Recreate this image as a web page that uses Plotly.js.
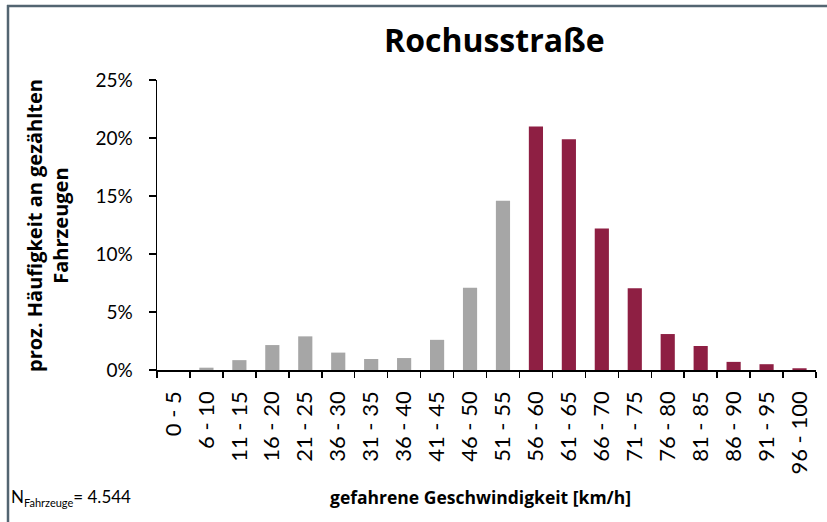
<!DOCTYPE html>
<html>
<head>
<meta charset="utf-8">
<script src="https://cdn.plot.ly/plotly-3.0.1.min.js"></script>
<style>html,body{margin:0;padding:0;background:#fff;}#chart{width:827px;height:522px;}</style>
</head>
<body>
<div id="chart"></div>
<script>
const categories = ["0 - 5","6 - 10","11 - 15","16 - 20","21 - 25","36 - 30","31 - 35","36 - 40","41 - 45","46 - 50","51 - 55","56 - 60","61 - 65","66 - 70","71 - 75","76 - 80","81 - 85","86 - 90","91 - 95","96 - 100"];
const shares = [0, 0.2, 0.85, 2.15, 2.9, 1.5, 0.95, 1.03, 2.6, 7.1, 14.6, 21.0, 19.9, 12.2, 7.05, 3.1, 2.07, 0.7, 0.5, 0.15];
const yTicks = [0, 5, 10, 15, 20, 25];
const title = "Rochusstraße";
const xTitle = "gefahrene Geschwindigkeit [km/h]";
const yTitle = "proz. Häufigkeit an gezählten<br>Fahrzeugen";
const nMain = "N";
const nSub = "Fahrzeuge";
const nValue = "= 4.544";
const firstOverLimit = "56 - 60";

const W = 827, H = 522;
const L = 157, R = 11, T = 80, B = 152;
const pw = W - L - R, ph = H - T - B;
const px = v => (v - L) / pw;
const py = v => (H - B - v) / ph;

const limitIdx = categories.indexOf(firstOverLimit);
const colors = categories.map((c, i) => i < limitIdx ? "#a6a6a6" : "#8e1f43");

const font = "Lato, 'Open Sans', sans-serif";
const font2 = "'Open Sans', Lato, sans-serif";

Plotly.newPlot("chart", [{
  type: "bar",
  x: categories,
  y: shares,
  marker: {color: colors, line: {width: 0}},
  hoverinfo: "skip"
}], {
  width: W, height: H,
  margin: {l: L, r: R, t: T, b: B, pad: 0},
  paper_bgcolor: "#fff", plot_bgcolor: "#fff",
  bargap: 0.57,
  showlegend: false,
  font: {family: font, color: "#000"},
  xaxis: {
    type: "category",
    showgrid: false, zeroline: false,
    showline: true, linecolor: "#000", linewidth: 1.5,
    ticks: "outside", ticklen: 6, tickwidth: 1.5, tickcolor: "#000",
    tickson: "boundaries",
    tickangle: -90,
    tickfont: {family: font, size: 22, color: "#000"},
    ticklabelstandoff: 11
  },
  yaxis: {
    range: [0, 25],
    tickvals: yTicks,
    ticktext: yTicks.map(v => v + "%"),
    showgrid: false, zeroline: false,
    showline: true, linecolor: "#000", linewidth: 1.5,
    ticks: "outside", ticklen: 7, tickwidth: 1.5, tickcolor: "#000",
    tickfont: {family: font, size: 19, color: "#000"},
    ticklabelstandoff: 12
  },
  shapes: [
    {type: "line", xref: "paper", yref: "paper", x0: px(7), x1: px(827), y0: py(6), y1: py(6), line: {color: "#536571", width: 2.5}},
    {type: "line", xref: "paper", yref: "paper", x0: px(8), x1: px(8), y0: py(5), y1: py(522), line: {color: "#536571", width: 2.5}}
  ],
  annotations: [
    {text: "<b>" + title + "</b>", xref: "paper", yref: "paper", x: px(494), y: py(40), xanchor: "center", yanchor: "middle", showarrow: false, font: {family: font2, size: 32, color: "#000"}},
    {text: "<b>" + yTitle + "</b>", xref: "paper", yref: "paper", x: px(47), y: py(226), xanchor: "center", yanchor: "middle", textangle: -90, showarrow: false, font: {family: font2, size: 20, color: "#000"}},
    {text: "<b>" + xTitle + "</b>", xref: "paper", yref: "paper", x: px(480), y: py(497), xanchor: "center", yanchor: "middle", showarrow: false, font: {family: font2, size: 17.5, color: "#000"}},
    {text: nMain + "<sub><span style='font-size:11px'>" + nSub + "</span></sub>" + nValue, xref: "paper", yref: "paper", x: px(9), y: py(497), xanchor: "left", yanchor: "middle", showarrow: false, font: {family: font, size: 17, color: "#000"}}
  ]
}, {displayModeBar: false, staticPlot: true});
</script>
</body>
</html>
